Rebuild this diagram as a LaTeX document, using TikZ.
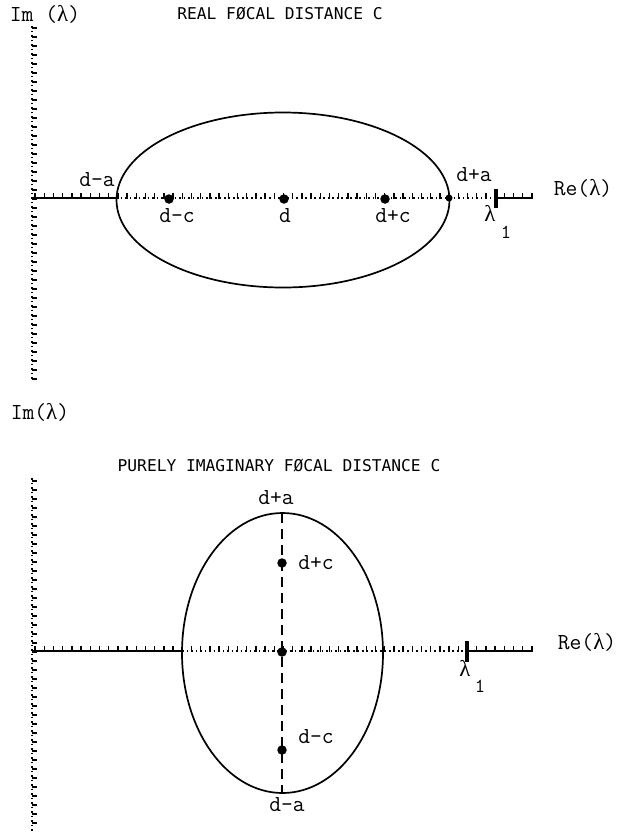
\documentclass[tikz,border=0pt]{standalone}
\usepackage{fontspec}
\newfontfamily\plotfont{DejaVu Sans Mono}
\newfontfamily\grkfont{Liberation Serif}
\newcommand{\lam}{{\grkfont λ}}
\begin{document}
\begin{tikzpicture}[x=1bp,y=-1bp,
  lab/.style={font=\ttfamily\fontsize{23}{23}\selectfont, inner sep=0pt, anchor=center},
  sub/.style={font=\ttfamily\fontsize{20}{20}\selectfont, inner sep=0pt, anchor=center},
  ttl/.style={font=\plotfont\fontsize{16.3}{16.3}\selectfont, inner sep=0pt, anchor=center},
  axisline/.style={line width=1.3bp},
  dotline/.style={line width=1.3bp, dash pattern=on 1.5bp off 3bp},
  tickmark/.style={line width=1.4bp},
  curve/.style={line width=1.7bp},
  focal/.style={circle, fill=black, inner sep=0pt, minimum size=9.5bp},
  bigtick/.style={line width=3.2bp},
  dashaxis/.style={line width=2.2bp, dash pattern=on 10bp off 6bp}]
\useasboundingbox (0,0) rectangle (619,832);

% ---------------- TOP PLOT ----------------
\coordinate (v1top) at (32,26);
\coordinate (v1bot) at (32,380);
\draw[dotline] (v1top) -- (v1bot);
\foreach \y in {28,37,...,380} \draw[tickmark] (31.5,\y) -- (37,\y);
\coordinate (h1start) at (32,198);
\coordinate (h1end) at (533,198);
\coordinate (h1ell) at (116,198);
\coordinate (h1lam) at (496,198);
\draw[axisline] (h1start) -- (h1ell);
\draw[dotline] (h1ell) -- (h1lam);
\draw[axisline] (h1lam) -- (h1end);
\foreach \x in {35,44.2,...,533} \draw[tickmark] (\x,198.7) -- (\x,193);
\draw[curve] (283,200) ellipse [x radius=166.5, y radius=87.5];
\node[focal] (p1dmc) at (169,199) {};
\node[focal] (p1d) at (284,199) {};
\node[focal] (p1dpc) at (385,199) {};
\node[focal, minimum size=7bp] (p1dpa) at (449,198) {};
\coordinate (l1a) at (496,189);
\coordinate (l1b) at (496,208);
\draw[bigtick] (l1a) -- (l1b);
\node[lab] (im1) at (45,14) {Im (\lam)};
\node[ttl] (title1) at (280,14) {REAL FØCAL DISTANCE C};
\node[lab] (da1) at (97,180) {d-a};
\node[lab] (dc1) at (177,216) {d-c};
\node[lab] (d1) at (285,216) {d};
\node[lab] (dpc1) at (393,216) {d+c};
\node[lab] (dpa1) at (474,175) {d+a};
\node[lab] (lam1) at (490,213) {\lam};
\node[sub] (one1) at (506,232) {1};
\node[lab] (re1) at (583,188) {Re(\lam)};

% ---------------- BOTTOM PLOT ----------------
\coordinate (v2top) at (32,478);
\coordinate (v2bot) at (32,832);
\draw[dotline] (v2top) -- (v2bot);
\foreach \y in {481,490,...,830} \draw[tickmark] (31.5,\y) -- (37,\y);
\coordinate (h2start) at (32,651);
\coordinate (h2end) at (533,651);
\coordinate (h2ell) at (182,651);
\coordinate (h2lam) at (467,651);
\draw[axisline] (h2start) -- (h2ell);
\draw[dotline] (h2ell) -- (h2lam);
\draw[axisline] (h2lam) -- (h2end);
\foreach \x in {35,44.2,...,533} \draw[tickmark] (\x,651.7) -- (\x,646);
\draw[curve] (282.5,653) ellipse [x radius=100.5, y radius=140];
\coordinate (va) at (282,513);
\coordinate (vb) at (282,793);
\draw[dashaxis] (va) -- (vb);
\node[focal] (p2dpc) at (282,563) {};
\node[focal] (p2d) at (282,652) {};
\node[focal] (p2dmc) at (282,750) {};
\coordinate (l2a) at (467,641);
\coordinate (l2b) at (467,662);
\draw[bigtick] (l2a) -- (l2b);
\node[lab] (im2) at (40,412) {Im(\lam)};
\node[ttl] (title2) at (279,466) {PURELY IMAGINARY FØCAL DISTANCE C};
\node[lab] (dpa2) at (276,498) {d+a};
\node[lab] (dpc2) at (316,563) {d+c};
\node[lab] (dmc2) at (316,737) {d-c};
\node[lab] (dma2) at (287,805) {d-a};
\node[lab] (lam2) at (465,668) {\lam};
\node[sub] (one2) at (480,686) {1};
\node[lab] (re2) at (587,642) {Re(\lam)};
\end{tikzpicture}
\end{document}
